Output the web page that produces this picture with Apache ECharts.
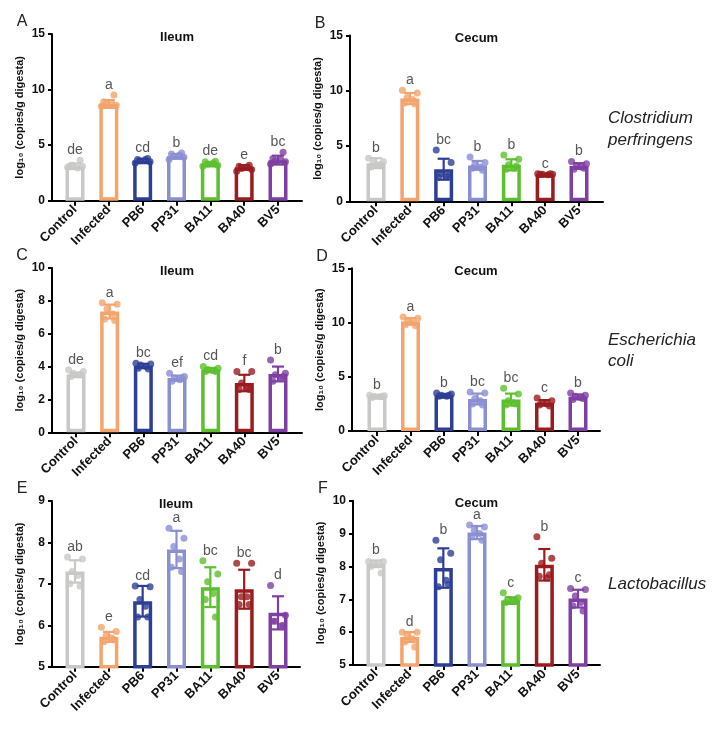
<!DOCTYPE html>
<html><head><meta charset="utf-8">
<script src="https://cdn.jsdelivr.net/npm/echarts@6/dist/echarts.min.js"></script>
<style>html,body{margin:0;padding:0;background:#fff}#c{width:724px;height:729px}</style>
</head><body><div id="c"></div>
<script>
// ---------- DATA ----------
const categories = ['Control', 'Infected', 'PB6', 'PP31', 'BA11', 'BA40', 'BV5'];
const groupColors = ['#c8c8c6', '#f4a46c', '#2d3f95', '#8a8fd2', '#5cbf2e', '#9a1c1f', '#7f3fa3'];

// A: Clostridium perfringens, Ileum
const A_mean = [3.1, 8.7, 3.6, 4.0, 3.3, 3.0, 3.65];
const A_sd = [0.25, 0.35, 0.15, 0.2, 0.15, 0.2, 0.4];
const A_dots = [[3.0, 3.1, 3.2, 2.95, 3.15, 3.65], [8.5, 8.6, 8.7, 8.8, 8.9, 9.5], [3.4, 3.5, 3.6, 3.7, 3.7, 3.8], [3.7, 3.9, 4.0, 4.1, 4.2, 4.3], [3.1, 3.2, 3.3, 3.4, 3.5, 3.55], [2.65, 2.8, 2.9, 3.0, 3.1, 3.2], [3.3, 3.5, 3.6, 3.7, 3.8, 4.35]];
const A_letters = ['de', 'a', 'cd', 'b', 'de', 'e', 'bc'];

// B: Clostridium perfringens, Cecum
const B_mean = [3.45, 9.3, 2.9, 3.25, 3.3, 2.45, 3.2];
const B_sd = [0.45, 0.5, 0.95, 0.4, 0.5, 0.05, 0.25];
const B_dots = [[3.9, 3.6, 3.5, 3.3, 3.1, 3.3], [10.05, 9.8, 9.4, 9.2, 8.9, 8.8], [4.65, 3.5, 2.5, 2.3, 2.2, 2.3], [4.0, 3.5, 3.3, 3.1, 3.0, 2.8], [4.2, 3.8, 3.3, 3.0, 2.9, 3.2], [2.5, 2.45, 2.45, 2.4, 2.45, 2.5], [3.6, 3.4, 3.2, 3.1, 2.9, 3.0]];
const B_letters = ['b', 'a', 'bc', 'b', 'b', 'c', 'b'];

// C: Escherichia coli, Ileum
const C_mean = [3.5, 7.35, 4.05, 3.3, 3.8, 3.0, 3.55];
const C_sd = [0.12, 0.42, 0.12, 0.15, 0.12, 0.5, 0.45];
const C_dots = [[3.8, 3.7, 3.6, 3.5, 3.4, 3.5], [7.88, 7.8, 7.5, 7.2, 6.9, 6.8], [4.2, 4.15, 4.1, 4.0, 3.9, 3.85], [3.6, 3.4, 3.3, 3.2, 3.1, 3.3], [4.0, 3.9, 3.8, 3.75, 3.7, 3.7], [3.7, 3.7, 3.0, 2.7, 2.6, 2.6], [4.4, 3.6, 3.5, 3.3, 3.1, 3.4]];
const C_letters = ['de', 'a', 'bc', 'ef', 'cd', 'f', 'b'];

// D: Escherichia coli, Cecum
const D_mean = [3.2, 10.1, 3.3, 2.95, 2.9, 2.6, 3.15];
const D_sd = [0.1, 0.3, 0.12, 0.5, 0.55, 0.25, 0.22];
const D_dots = [[3.3, 3.25, 3.2, 3.15, 3.1, 3.2], [10.5, 10.4, 10.2, 10.0, 9.8, 9.7], [3.5, 3.4, 3.3, 3.2, 3.2, 3.3], [3.6, 3.5, 3.0, 2.8, 2.5, 2.4], [3.95, 3.4, 2.8, 2.6, 2.4, 2.5], [3.05, 2.8, 2.6, 2.5, 2.4, 2.3], [3.5, 3.3, 3.2, 3.1, 2.9, 3.0]];
const D_letters = ['b', 'a', 'b', 'bc', 'bc', 'c', 'b'];

// E: Lactobacillus, Ileum
const E_mean = [7.3, 5.72, 6.58, 7.83, 6.92, 6.87, 6.3];
const E_sd = [0.27, 0.12, 0.37, 0.45, 0.48, 0.47, 0.4];
const E_dots = [[7.65, 7.6, 7.3, 7.2, 7.0, 6.95], [5.95, 5.85, 5.75, 5.7, 5.6, 5.65], [6.95, 6.93, 6.62, 6.46, 6.2, 6.2], [8.34, 8.1, 7.9, 7.6, 7.4, 7.3], [7.56, 7.24, 7.05, 6.77, 6.62, 6.2], [7.5, 7.5, 6.69, 6.69, 6.5, 6.5], [6.96, 6.24, 6.1, 5.98, 6.1, 6.0]];
const E_letters = ['ab', 'e', 'cd', 'a', 'bc', 'bc', 'd'];

// F: Lactobacillus, Cecum
const F_mean = [8.08, 5.85, 7.95, 9.03, 6.96, 8.05, 7.02];
const F_sd = [0.1, 0.15, 0.6, 0.2, 0.1, 0.48, 0.27];
const F_dots = [[8.15, 8.15, 8.1, 8.05, 8.0, 7.8], [6.0, 6.0, 5.9, 5.8, 5.7, 5.55], [8.8, 8.4, 8.2, 7.58, 7.38, 7.45], [9.26, 9.2, 9.1, 9.0, 8.9, 8.8], [7.2, 7.05, 7.0, 6.95, 6.9, 6.95], [8.9, 8.25, 8.1, 7.65, 7.7, 7.75], [7.33, 7.3, 7.1, 6.9, 6.8, 6.64]];
const F_letters = ['b', 'd', 'b', 'a', 'c', 'b', 'c'];

const panelTags = ['A', 'B', 'C', 'D', 'E', 'F'];
const panelTitles = ['Ileum', 'Cecum', 'Ileum', 'Cecum', 'Ileum', 'Cecum'];
const yRanges = [[0, 15, 5], [0, 15, 5], [0, 10, 2], [0, 15, 5], [5, 9, 1], [5, 10, 1]];
const speciesNames = [['Clostridium', 'perfringens'], ['Escherichia', 'coli'], ['Lactobacillus']];
const yAxisTitle = 'log\u2081\u2080 (copies/g digesta)';

// ---------- LAYOUT ----------
const boxes = [
  {left: 52, right: 302, top: 34, bottom: 200.7, first: 75, last: 278},
  {left: 350, right: 603, top: 35.5, bottom: 201.3, first: 376, last: 579},
  {left: 52, right: 302, top: 268, bottom: 432.3, first: 76, last: 278},
  {left: 352, right: 600, top: 268.3, bottom: 431, first: 377, last: 578},
  {left: 52, right: 300, top: 501, bottom: 666.7, first: 75, last: 278},
  {left: 353, right: 600, top: 500.7, bottom: 665, first: 376, last: 578}
];
const jitter = [-0.22, 0.22, -0.08, 0.08, -0.15, 0.15];
const FONT = '"Liberation Sans", Arial, sans-serif';

const data = [
  [A_mean, A_sd, A_dots, A_letters],
  [B_mean, B_sd, B_dots, B_letters],
  [C_mean, C_sd, C_dots, C_letters],
  [D_mean, D_sd, D_dots, D_letters],
  [E_mean, E_sd, E_dots, E_letters],
  [F_mean, F_sd, F_dots, F_letters]
];

const grids = [], xAxes = [], yAxes = [], series = [], graphics = [];
const idx = categories.map((c, i) => i);

boxes.forEach((b, p) => {
  const step = (b.last - b.first) / 6;
  const xMin = -(b.first - b.left) / step;
  const xMax = 6 + (b.right - b.last) / step;
  grids.push({left: b.left, top: b.top, width: b.right - b.left, height: b.bottom - b.top});
  xAxes.push({
    gridIndex: p, type: 'value', min: xMin, max: xMax,
    axisLine: {show: true, onZero: false, lineStyle: {color: '#000', width: 2}},
    splitLine: {show: false},
    axisTick: {show: true, customValues: idx, length: 5, lineStyle: {color: '#000', width: 2}},
    axisLabel: {customValues: idx, formatter: v => categories[Math.round(v)], rotate: 45,
      fontSize: 13, fontWeight: 'bold', color: '#111', margin: 7, fontFamily: FONT}
  });
  const yr = yRanges[p];
  yAxes.push({
    gridIndex: p, type: 'value', min: yr[0], max: yr[1], interval: yr[2],
    axisLine: {show: true, onZero: false, lineStyle: {color: '#000', width: 2}},
    axisTick: {show: true, length: 4, lineStyle: {color: '#000', width: 2}},
    splitLine: {show: false},
    axisLabel: {fontSize: 12, fontWeight: 'bold', color: '#111', margin: 7, fontFamily: FONT},
    name: yAxisTitle, nameLocation: 'middle', nameGap: 27,
    nameTextStyle: {fontSize: 11, fontWeight: 'bold', color: '#111', fontFamily: FONT}
  });

  const [mean, sd, dots, letters] = data[p];
  series.push({
    type: 'bar', xAxisIndex: p, yAxisIndex: p, barWidth: 19, clip: true, z: 2,
    data: mean.map((v, k) => ({value: [k, v], itemStyle: {color: '#fff', borderColor: groupColors[k], borderWidth: 3.5}}))
  });
  series.push({
    type: 'custom', xAxisIndex: p, yAxisIndex: p, z: 3,
    encode: {x: 0, y: [1, 2]},
    data: mean.map((v, k) => [k, v - sd[k], v + sd[k]]),
    renderItem: (params, api) => {
      const k = api.value(0);
      const t = api.coord([k, api.value(2)]);
      const bt = api.coord([k, api.value(1)]);
      const st = {stroke: groupColors[k], lineWidth: 2.2};
      const hw = 6;
      return {type: 'group', children: [
        {type: 'line', shape: {x1: t[0], y1: t[1], x2: bt[0], y2: bt[1]}, style: st},
        {type: 'line', shape: {x1: t[0] - hw, y1: t[1], x2: t[0] + hw, y2: t[1]}, style: st},
        {type: 'line', shape: {x1: bt[0] - hw, y1: bt[1], x2: bt[0] + hw, y2: bt[1]}, style: st}
      ]};
    }
  });
  const pts = [];
  dots.forEach((arr, k) => arr.forEach((v, j) => pts.push({value: [k + jitter[j], v], itemStyle: {color: groupColors[k]}})));
  series.push({type: 'scatter', xAxisIndex: p, yAxisIndex: p, symbolSize: 7, z: 4, data: pts});
  series.push({
    type: 'scatter', xAxisIndex: p, yAxisIndex: p, symbolSize: 0, z: 5,
    data: mean.map((v, k) => [k, Math.max(v + sd[k], Math.max(...dots[k]))]),
    label: {show: true, position: 'top', distance: 3, formatter: q => letters[q.dataIndex],
      fontSize: 14, color: '#2a2a2a', fontFamily: FONT}
  });

  graphics.push({type: 'text', x: (b.left + b.right) / 2, y: b.top + 3,
    style: {text: panelTitles[p], font: 'bold 13px ' + FONT, fill: '#111', textAlign: 'center', textVerticalAlign: 'middle'}});
  graphics.push({type: 'text', x: b.left - 30, y: b.top - 12,
    style: {text: panelTags[p], font: '16px ' + FONT, fill: '#222', textAlign: 'center', textVerticalAlign: 'middle'}});
});

const speciesY = [[118.5, 140], [340, 361], [584]];
speciesNames.forEach((lines, r) => lines.forEach((t, j) => {
  graphics.push({type: 'text', x: 608, y: speciesY[r][j],
    style: {text: t, font: 'italic 17px ' + FONT, fill: '#222', textAlign: 'left', textVerticalAlign: 'middle'}});
}));

const chart = echarts.init(document.getElementById('c'));
chart.setOption({
  animation: false,
  backgroundColor: '#fff',
  grid: grids, xAxis: xAxes, yAxis: yAxes, series: series, graphic: graphics
});
</script></body></html>
